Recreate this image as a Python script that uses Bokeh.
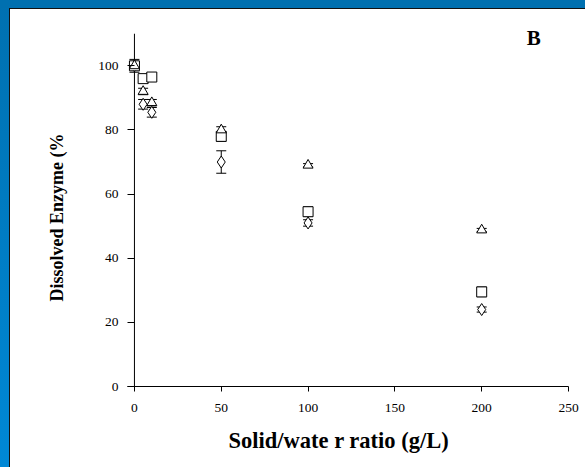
from bokeh.plotting import figure
from bokeh.models import ColumnDataSource, Whisker, TeeHead, Label, FixedTicker, Title
from bokeh.embed import file_html
from bokeh.resources import INLINE

# Solid/water ratio (g/L)
ratio = [0, 5, 10, 50, 100, 200]

# Dissolved enzyme (%) for three series, with error-bar half widths
diamond_y = [100, 88, 85.5, 70, 51, 24]
diamond_err = [1, 1.5, 1.5, 3.5, 1, 0.8]
square_y = [100, 96, 96.5, 78, 54.5, 29.5]
square_err = [1, 1, 1, 1.5, 1.5, 1.5]
triangle_y = [100, 92, 88.5, 80, 69, 48.8]
triangle_err = [2, 1, 1, 1, 0.5, 0.5]

x_ticks = [0, 50, 100, 150, 200, 250]
y_ticks = [0, 20, 40, 60, 80, 100]
y_axis_top = 110

SERIF = "Liberation Serif"

# a little room left of x=0 so the markers on the y axis are not cut off
p = figure(width=585, height=467, x_range=(-4, 250), y_range=(0, 116),
           output_backend="svg", toolbar_location=None,
           min_border_left=127, min_border_right=17,
           min_border_top=14, min_border_bottom=81)

p.border_fill_color = None
p.background_fill_color = "white"
p.outline_line_color = None
p.styles = {
    "background": (
        "linear-gradient(#0070b0,#0070b0) 0 0 / 100% 8px no-repeat,"
        "linear-gradient(to bottom,#0070b0,#0088d6) 0 0 / 9px 100% no-repeat,"
        "linear-gradient(#111,#111) 9px 8px / 1px 100% no-repeat,"
        "linear-gradient(#111,#111) 9px 8px / 100% 1px no-repeat,"
        "white"
    )
}
p.grid.visible = False

for ax in (p.xaxis[0], p.yaxis[0]):
    ax.axis_line_color = "black"
    ax.axis_line_width = 1
    ax.major_tick_line_color = "black"
    ax.minor_tick_line_color = None
    ax.major_label_text_font = SERIF
    ax.major_label_text_font_size = "13.5px"
    ax.major_label_text_color = "black"

p.xaxis.ticker = FixedTicker(ticks=x_ticks)
p.yaxis.ticker = FixedTicker(ticks=y_ticks)
p.xaxis.major_tick_in = 0
p.xaxis.major_tick_out = 5
p.xaxis.major_label_standoff = 12
# y ticks run from the frame edge to the drawn y axis at x=0
p.yaxis.major_tick_in = 7
p.yaxis.major_tick_out = 0
p.yaxis.major_label_standoff = 9

# the y axis line sits at x=0 and stops at 110
p.yaxis.axis_line_color = None
p.segment(x0=[0], y0=[0], x1=[0], y1=[y_axis_top], line_color="black", line_width=1)

p.add_layout(Title(text="Solid/wate r ratio (g/L)", align="left", offset=101,
                   standoff=22, text_font=SERIF, text_font_style="bold",
                   text_font_size="22.5px", text_color="black"), "below")
p.add_layout(Title(text="Dissolved Enzyme (%", align="left", offset=85,
                   standoff=58, text_font=SERIF, text_font_style="bold",
                   text_font_size="18px", text_color="black"), "left")

series = [
    (diamond_y, diamond_err, "diamond"),
    (square_y, square_err, "square"),
    (triangle_y, triangle_err, "triangle"),
]

for ys, errs, marker in series:
    src = ColumnDataSource(dict(
        x=ratio, y=ys,
        lo=[v - e for v, e in zip(ys, errs)],
        hi=[v + e for v, e in zip(ys, errs)],
    ))
    w = Whisker(source=src, base="x", lower="lo", upper="hi",
                line_color="black", line_width=1,
                upper_head=TeeHead(size=10, line_color="black", line_width=1),
                lower_head=TeeHead(size=10, line_color="black", line_width=1))
    p.add_layout(w)
    p.scatter("x", "y", source=src, marker=marker, size=10 if marker != "diamond" else 12,
              fill_color="white", line_color="black", line_width=1)

p.add_layout(Label(x=230, y=108.7, text="B", text_font=SERIF,
                   text_font_style="bold", text_font_size="21px",
                   text_align="center", text_baseline="middle", text_color="black"))

open("out.html", "w").write(file_html(p, INLINE))
